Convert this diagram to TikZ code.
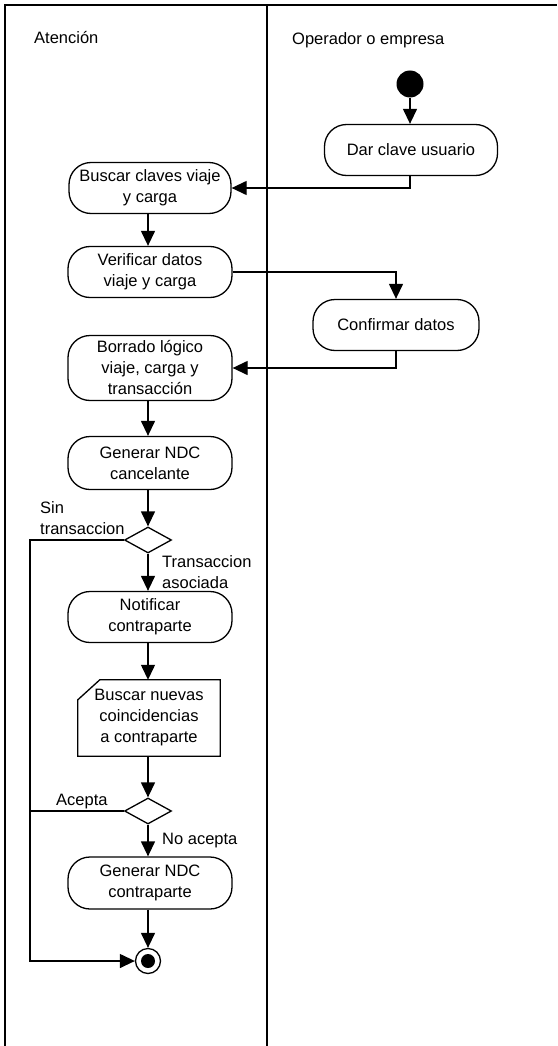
\documentclass[tikz,border=0pt]{standalone}
\usepackage{fontspec}
\setmainfont{Liberation Sans}
\usetikzlibrary{arrows.meta,shapes.geometric,calc}

\begin{document}
\begin{tikzpicture}[x=1pt,y=-1pt,
  txt/.style={font=\fontsize{16.5}{21}\selectfont},
  act/.style={draw, line width=1.3pt, rounded corners=22pt, minimum width=164pt,
              minimum height=51pt, align=center, txt, inner sep=2pt},
  choice/.style={draw, diamond, line width=1.3pt, minimum width=47pt,
                 minimum height=26pt, inner sep=0pt},
  flow/.style={line width=1.3pt, -{Triangle[width=14pt,length=15pt]}},
  plain/.style={line width=1.3pt},
  lane/.style={line width=1.6pt},
  lbl/.style={txt, inner sep=0pt, align=left}]

\useasboundingbox (0,0) rectangle (557,1046);

% swimlanes
\draw[lane] (5,1046) -- (5,5) -- (557,5);
\draw[lane] (267,5) -- (267,1046);
\node[lbl, anchor=west] (tA) at (34,38) {Atención};
\node[lbl, anchor=west] (tO) at (292,40) {Operador o empresa};

% activities
\node[circle, fill, minimum size=27pt, inner sep=0pt] (start) at (410,84) {};
\node[act, minimum width=173pt] (dar) at (411,150) {Dar clave usuario};
\node[act, minimum width=162pt] (buscar) at (150,188) {Buscar claves viaje\\y carga};
\node[act] (verif) at (150,272) {Verificar datos\\viaje y carga};
\node[act, minimum width=166pt] (conf) at (396,325) {Confirmar datos};
\node[act, minimum height=65pt] (borr) at (150,368) {Borrado lógico\\viaje, carga y\\transacción};
\node[act, minimum height=53pt] (gen1) at (150,463) {Generar NDC\\cancelante};
\node[choice] (d1) at (148,540) {};
\node[act] (notif) at (150,617) {Notificar\\contraparte};
\node[minimum width=142pt, minimum height=76pt, align=center, txt, inner sep=0pt] (bn) at (149,718)
  {Buscar nuevas\\coincidencias\\a contraparte};
\draw[plain] ($(bn.north west)+(0,20)$) -- ($(bn.north west)+(22,0)$) -- (bn.north east)
  -- (bn.south east) -- (bn.south west) -- cycle;
\node[choice] (d2) at (148,811) {};
\node[act, minimum height=52pt] (gen2) at (150,883) {Generar NDC\\contraparte};
\node[circle, draw, line width=1.3pt, minimum size=25pt, inner sep=0pt] (final) at (148,961) {};
\node[circle, fill, minimum size=14pt, inner sep=0pt] (finaldot) at (final) {};

% guard labels
\node[lbl, anchor=west] (lsin) at (40,518) {Sin\\transaccion};
\node[lbl, anchor=west] (ltra) at (162,572) {Transaccion\\asociada};
\node[lbl, anchor=west] (lace) at (56,802) {Acepta};
\node[lbl, anchor=west] (lno) at (162,841) {No acepta};

% connectors
\coordinate (lx) at (30,0);
\draw[flow] (start) -- (dar.north -| start);
\draw[flow] (dar.south -| start) |- (buscar.east);
\draw[flow] (buscar.south -| d1) -- (verif.north -| d1);
\draw[flow] (verif.east) -| (conf.north);
\draw[flow] (conf.south) |- (borr.east);
\draw[flow] (borr.south -| d1) -- (gen1.north -| d1);
\draw[flow] (gen1.south -| d1) -- (d1.north);
\draw[flow] (d1.south) -- (notif.north -| d1);
\draw[flow] (notif.south -| d1) -- (bn.north -| d1);
\draw[flow] (bn.south -| d1) -- (d2.north);
\draw[flow] (d2.south) -- (gen2.north -| d2);
\draw[flow] (gen2.south -| d2) -- (final.north);
\draw[flow] (d1.west) -- (d1.west -| lx) |- (final.west);
\draw[plain] (d2.west) -- (d2.west -| lx);
\end{tikzpicture}
\end{document}
